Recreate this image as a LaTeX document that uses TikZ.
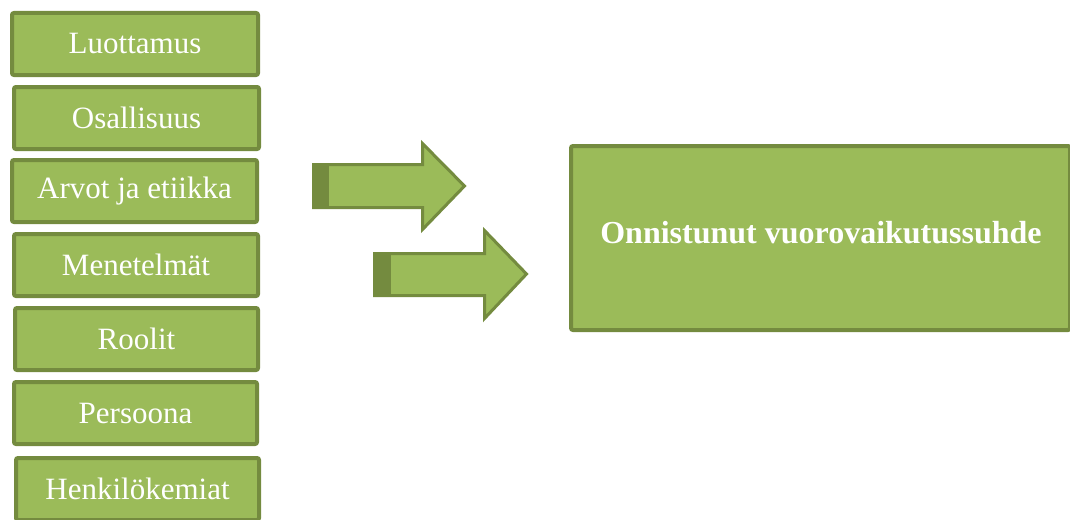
\documentclass[tikz,border=0pt]{standalone}
\usepackage{fontspec}
\setmainfont{Liberation Serif}
\definecolor{gfill}{HTML}{9BBB59}
\definecolor{gline}{HTML}{748B3F}
\begin{document}
\begin{tikzpicture}[x=1pt,y=-1pt,
  item/.style={draw=gline,fill=gfill,line width=4pt,rounded corners=2pt,
    minimum width=#1,minimum height=62pt,inner sep=0pt,text=white,
    font=\fontsize{31}{36}\selectfont},
  item/.default=246pt,
  bigbox/.style={draw=gline,fill=gfill,line width=4pt,rounded corners=2pt,
    minimum width=499pt,minimum height=184pt,inner sep=0pt},
  bigtext/.style={text=white,font=\fontsize{32}{38}\selectfont\bfseries},
  arrowbody/.style={draw=gline,fill=gfill,line width=3pt,line join=miter},
  stripe/.style={fill=gline,draw=none}]
\useasboundingbox (0,0) rectangle (1070,519);
\clip (0,0) rectangle (1070,519);
\node[item] (b1) at (135,44) {Luottamus};
\node[item=245pt] (b2) at (136.5,118) {Osallisuus};
\node[item=245pt] (b3) at (134.5,191) {Arvot ja etiikka};
\node[item=244pt] (b4) at (136,265) {Menetelmät};
\node[item=243pt] (b5) at (136.5,339) {Roolit};
\node[item=243pt] (b6) at (135.5,413) {Persoona};
\node[item=243pt] (b7) at (137.5,489) {Henkilökemiat};
\node[bigbox] (big) at (820.5,238) {};
\node[bigtext] (bigt) at (821,233) {Onnistunut vuorovaikutussuhde};
% arrow 1
\draw[arrowbody] (313.5,164.5) -- (422.5,164.5) -- (422.5,143.5) -- (464.5,186)
  -- (422.5,229.5) -- (422.5,207.5) -- (313.5,207.5) -- cycle;
\fill[stripe] (312,163) rectangle (329,209);
% arrow 2
\draw[arrowbody] (374.5,253.5) -- (484.5,253.5) -- (484.5,230.5) -- (526.5,274)
  -- (484.5,318.5) -- (484.5,295.5) -- (374.5,295.5) -- cycle;
\fill[stripe] (373,252) rectangle (391,297);
\end{tikzpicture}
\end{document}
